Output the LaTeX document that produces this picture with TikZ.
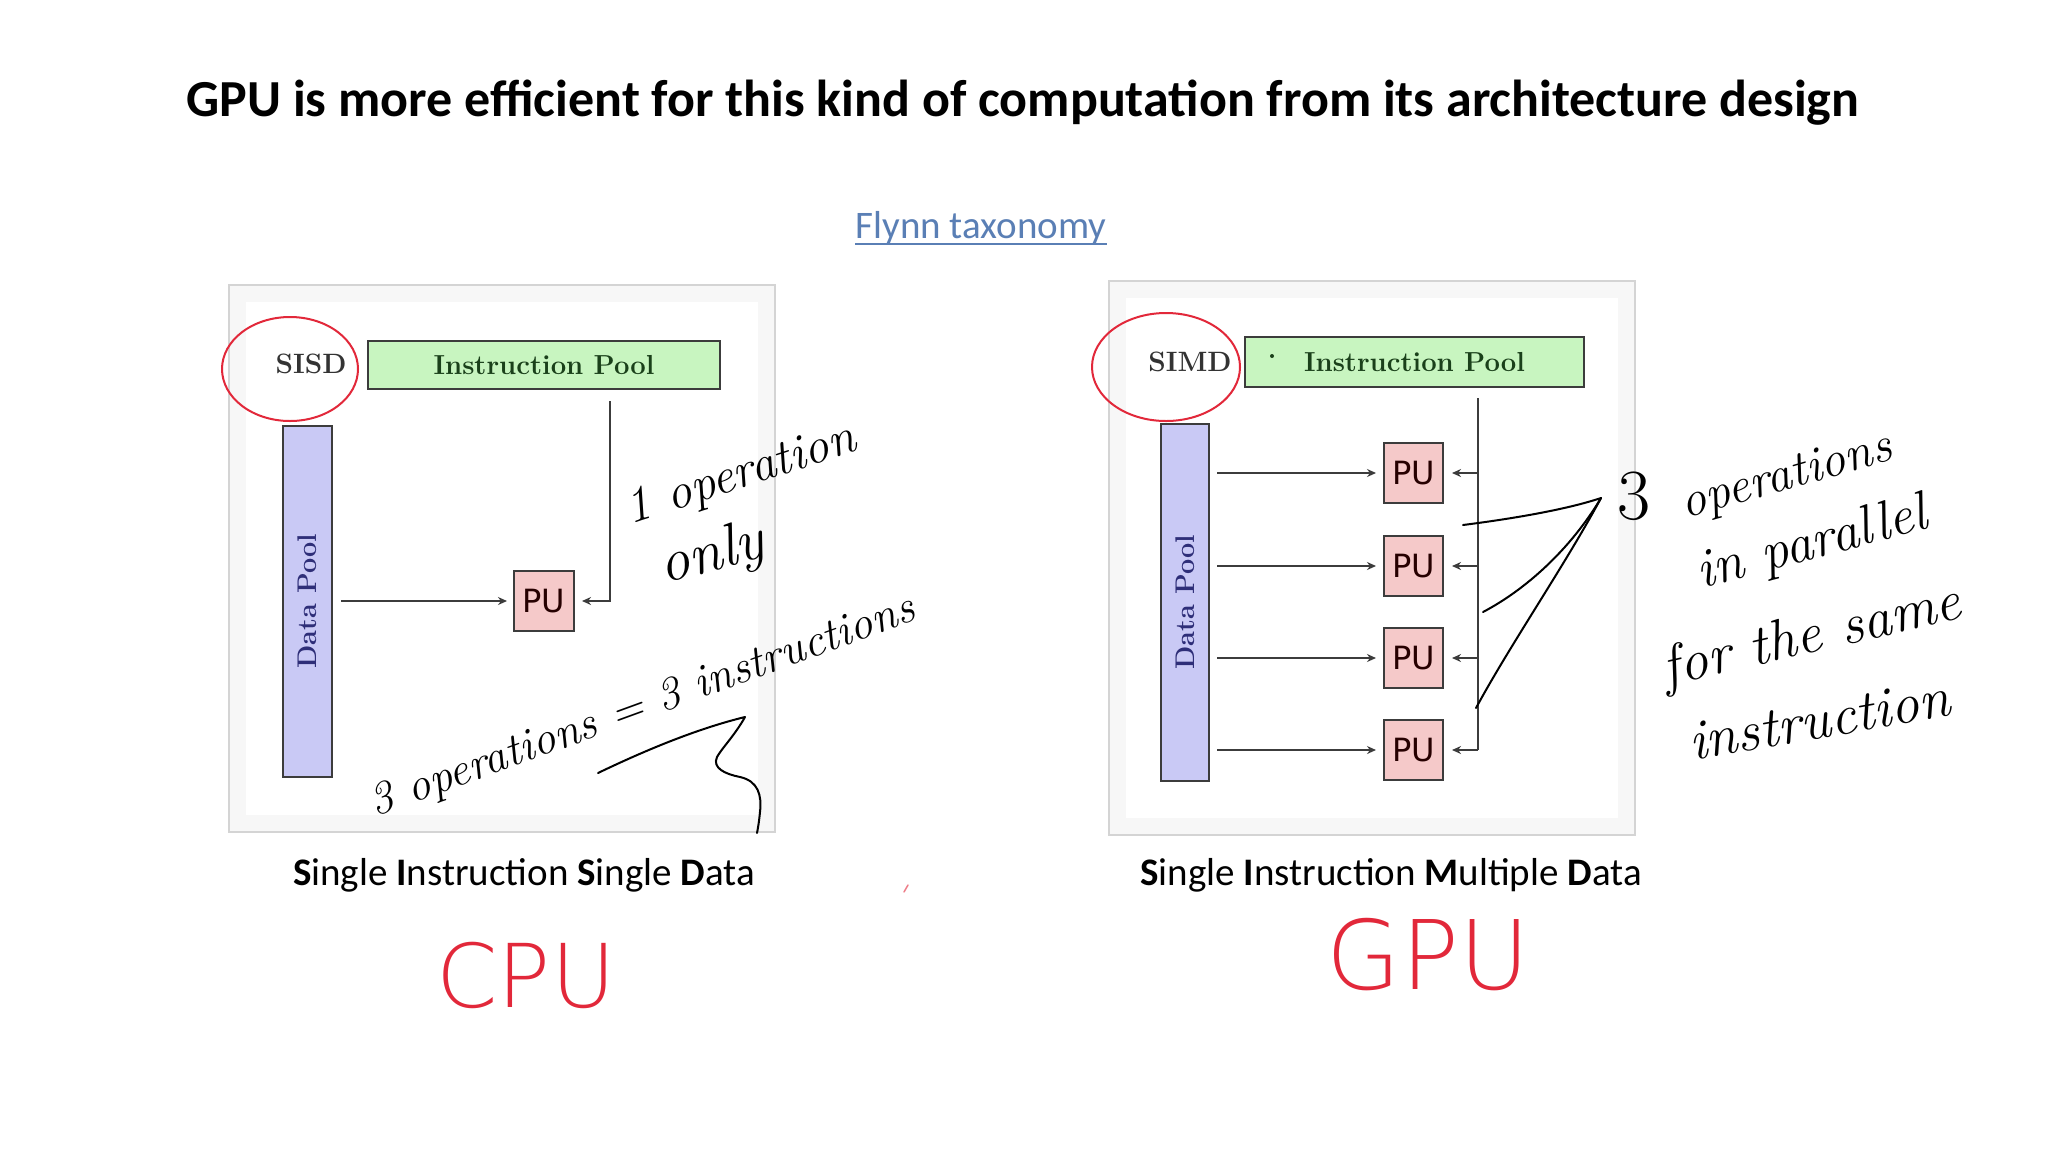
\documentclass[tikz,border=0pt]{standalone}
\usepackage{fontspec}
\newfontfamily\carlito{Carlito}
\newfontfamily\dejavu{DejaVu Sans}
\newfontfamily\thinsans{DejaVuSans-ExtraLight}[Extension=.ttf]
\usetikzlibrary{arrows.meta}
\definecolor{panelfill}{HTML}{F7F7F7}
\definecolor{panelline}{HTML}{D4D4D4}
\definecolor{ipfill}{HTML}{C8F5C0}
\definecolor{iptext}{HTML}{1A401A}
\definecolor{dpfill}{HTML}{C9C9F5}
\definecolor{dptext}{HTML}{2E2E78}
\definecolor{pufill}{HTML}{F5C9C9}
\definecolor{boxline}{HTML}{3C3C3C}
\definecolor{inkred}{HTML}{E2283A}
\definecolor{linkblue}{HTML}{5A7FB5}
\begin{document}
\begin{tikzpicture}[x=1pt,y=-1pt,
  panel/.style={draw=panelline, line width=1.5pt, fill=panelfill},
  cmtext/.style={font=\bfseries\fontsize{28}{34}\selectfont, inner sep=0pt},
  ipbox/.style={draw=boxline, line width=2pt, fill=ipfill, text=iptext, font=\bfseries\fontsize{27.5}{34}\selectfont, inner sep=0pt, minimum height=48pt},
  dpbox/.style={draw=boxline, line width=2pt, fill=dpfill, text=dptext, font=\bfseries\fontsize{27}{34}\selectfont, inner sep=0pt, minimum width=49pt},
  pubox/.style={draw=boxline, line width=2pt, fill=pufill, text=black!85!red, font=\dejavu\fontsize{32}{36}\selectfont, inner sep=0pt, minimum width=60pt, minimum height=60pt},
  wire/.style={draw=boxline, line width=2pt},
  arr/.style={draw=boxline, line width=2pt, -{Stealth[length=9pt,width=8pt]}},
  ink/.style={draw=black, line width=2pt, line cap=round, line join=round},
  redink/.style={draw=inkred, line width=2pt, line cap=round},
  hand/.style={font=\fontsize{50}{54}\selectfont\itshape, inner sep=0pt},
  caption/.style={font=\carlito\fontsize{39}{44}\selectfont, inner sep=0pt, anchor=base},
  bigred/.style={text=inkred, font=\thinsans\fontsize{88}{92}\selectfont, inner sep=0pt}
]
\useasboundingbox (0,0) rectangle (2048,1152);
\fill[white] (0,0) rectangle (2048,1152);

% title and link
\node[inner sep=0pt, anchor=base, font=\carlito\bfseries\fontsize{52}{58}\selectfont] (title) at (1023,116)
  {GPU is more efficient for this kind of computation from its architecture design};
\node[inner sep=0pt, anchor=base, text=linkblue, font=\carlito\fontsize{39}{44}\selectfont] (flynn) at (981,238) {Flynn taxonomy};
\draw[linkblue, line width=1.5pt] ([yshift=-6pt]flynn.base west) -- ([yshift=-6pt]flynn.base east);

% ---------------- left panel (SISD)
\draw[panel] (229,285) rectangle (775,832);
\fill[white] (246,302) rectangle (758,815);
\node[cmtext, text=black!80] (sisd) at (311,364) {SISD};
\node[ipbox, minimum width=352pt] (ipL) at (544,365) {Instruction Pool};
\node[dpbox, minimum height=351pt] (dpL) at (307.5,601.5) {\rotatebox{90}{Data Pool}};
\node[pubox] (puL) at (544,601) {PU};
\draw[arr, shorten <=8pt, shorten >=6pt] (dpL.east |- puL.west) -- (puL.west);
\coordinate (busL) at (610,401);
\draw[arr, shorten >=7pt] (busL) |- (puL.east);
\draw[redink] (290,369) ellipse [x radius=68, y radius=52];

% ---------------- right panel (SIMD)
\draw[panel] (1109,281) rectangle (1635,835);
\fill[white] (1126,298) rectangle (1618,818);
\node[cmtext, text=black!80] (simd) at (1190,362) {SIMD};
\node[ipbox, minimum width=339pt, minimum height=50pt] (ipR) at (1414.5,362) {Instruction Pool};
\fill[iptext] (1272,356) circle (2pt);
\node[dpbox, minimum width=48pt, minimum height=357pt] (dpR) at (1185,602.5) {\rotatebox{90}{Data Pool}};
\node[pubox, minimum width=59pt] (pu1) at (1413.5,473) {PU};
\node[pubox, minimum width=59pt] (pu2) at (1413.5,566) {PU};
\node[pubox, minimum width=59pt] (pu3) at (1413.5,658) {PU};
\node[pubox, minimum width=59pt] (pu4) at (1413.5,750) {PU};
\foreach \p in {pu1,pu2,pu3,pu4}{
  \draw[arr, shorten <=7pt, shorten >=7pt] (dpR.east |- \p.west) -- (\p.west);
}
\coordinate (busR) at (1478,398);
\draw[wire] (busR) -- (busR |- pu4.east);
\foreach \p in {pu1,pu2,pu3,pu4}{
  \draw[arr, shorten >=8pt] (busR |- \p.east) -- (\p.east);
}
\draw[redink] (1166,367) ellipse [x radius=74, y radius=54];

% captions
\node[caption] (capL) at (524,885) {\textbf{S}ingle \textbf{I}nstruction \textbf{S}ingle \textbf{D}ata};
\node[caption] (capR) at (1391,885) {\textbf{S}ingle \textbf{I}nstruction \textbf{M}ultiple \textbf{D}ata};

% red handwriting
\node[bigred] (cpu) at (526,975) {CPU};
\node[bigred, font=\thinsans\fontsize{96}{100}\selectfont] (gpu) at (1428,955) {GPU};
\draw[draw=inkred!60, line width=1.5pt, line cap=round] (904,892) -- (908,885);

% left handwritten notes
\node[hand, rotate=18] (oneop) at (741,476) {1 operation};
\node[hand, rotate=15, font=\fontsize{60}{64}\selectfont\itshape] (only) at (712,556) {only};
\node[hand, rotate=20, font=\fontsize{46}{50}\selectfont\itshape] (threeop) at (643,708) {3 operations = 3 instructions};
\draw[ink] (598,773) .. controls (650,748) and (700,728) .. (745,717)
  .. controls (735,735) and (722,748) .. (717,757)
  .. controls (712,768) and (725,774) .. (740,777)
  .. controls (758,781) and (762,795) .. (760,812)
  .. controls (759,822) and (758,828) .. (757,833);

% right handwritten notes
\coordinate (conv) at (1601,498);
\node[inner sep=0pt, font=\fontsize{72}{76}\selectfont] (three) at (1634,496) {3};
\draw[ink] (1463,525) .. controls (1510,519) and (1565,510) .. (conv);
\draw[ink] (1483,612) .. controls (1525,590) and (1570,550) .. (conv);
\draw[ink] (1476,708) .. controls (1510,645) and (1565,565) .. (conv);
\node[hand, rotate=16] (ops) at (1787,478) {operations};
\node[hand, rotate=15, font=\fontsize{55}{58}\selectfont\itshape] (inpar) at (1812,545) {in parallel};
\node[hand, rotate=13, font=\fontsize{57}{60}\selectfont\itshape] (forsame) at (1812,638) {for the same};
\node[hand, rotate=10, font=\fontsize{57}{60}\selectfont\itshape] (instr) at (1819,720) {instruction};
\end{tikzpicture}
\end{document}
